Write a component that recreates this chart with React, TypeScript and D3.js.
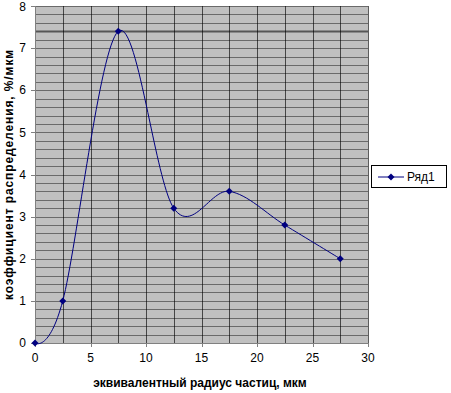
import React from "react";
import * as d3 from "d3";

const xValues = [0, 2.5, 7.5, 12.5, 17.5, 22.5, 27.5];
const yValues = [0, 1, 7.4, 3.2, 3.6, 2.8, 2.0];
const xTicks = [0, 5, 10, 15, 20, 25, 30];
const yTicks = [0, 1, 2, 3, 4, 5, 6, 7, 8];
const seriesName = "Ряд1";
const xTitle = "эквивалентный радиус частиц, мкм";
const yTitle = "коэффициент распределения, %/мкм";

export default function App() {
  const W = 451, H = 393;
  const left = 35, right = 368, top = 6, bottom = 343;
  const x = d3.scaleLinear().domain([0, 30]).range([left, right]);
  const y = d3.scaleLinear().domain([0, 8]).range([bottom, top]);
  const vGrid = d3.range(0, 30.001, 2.5);
  const hGrid = d3.range(0, 8.001, 0.2);
  const pts = xValues.map((v, i) => [x(v), y(yValues[i])] as [number, number]);
  const line = d3.line().curve(d3.curveCardinal.tension(0))(pts) || "";
  const font = "'Liberation Sans', Arial, sans-serif";
  const diamond = (cx: number, cy: number, r: number) =>
    `M${cx},${cy - r}L${cx + r},${cy}L${cx},${cy + r}L${cx - r},${cy}Z`;
  return (
    <svg width={W} height={H} style={{ position: "absolute", left: 0, top: 0 }} fontFamily={font}>
      <rect x={0} y={0} width={W} height={H} fill="#fff" />
      <rect x={left} y={top} width={right - left} height={bottom - top} fill="#c0c0c0" />
      {hGrid.map((v, i) => (
        <line key={"h" + i} x1={left} x2={right} y1={Math.round(y(v)) + 0.5} y2={Math.round(y(v)) + 0.5}
          stroke={Math.abs(v - 7.4) < 1e-6 ? "#333" : "#000"} strokeWidth={Math.abs(v - 7.4) < 1e-6 ? 2 : 0.6} strokeOpacity={0.75} />
      ))}
      {vGrid.map((v, i) => (
        <line key={"v" + i} x1={Math.round(x(v)) + 0.5} x2={Math.round(x(v)) + 0.5} y1={top} y2={bottom}
          stroke="#000" strokeWidth={0.8} strokeOpacity={0.8} />
      ))}
      <line x1={left + 0.5} x2={left + 0.5} y1={top} y2={bottom} stroke="#808080" />
      <line x1={left} x2={right} y1={bottom + 0.5} y2={bottom + 0.5} stroke="#808080" />
      {yTicks.map((v) => (
        <g key={"yt" + v}>
          <line x1={left - 4} x2={left} y1={Math.round(y(v)) + 0.5} y2={Math.round(y(v)) + 0.5} stroke="#808080" />
          <text x={left - 9} y={y(v)} dy={v === 8 ? "0.45em" : "0.35em"} textAnchor="end" fontSize={12} fill="#000">{v}</text>
        </g>
      ))}
      {xTicks.map((v) => (
        <g key={"xt" + v}>
          <line x1={Math.round(x(v)) + 0.5} x2={Math.round(x(v)) + 0.5} y1={bottom} y2={bottom + 4} stroke="#808080" />
          <text x={x(v)} y={bottom + 19} textAnchor="middle" fontSize={12} fill="#000">{v}</text>
        </g>
      ))}
      <path d={line} fill="none" stroke="#000080" strokeWidth={1} />
      {pts.map((p, i) => (
        <path key={"m" + i} d={diamond(p[0], p[1], 3.5)} fill="#000080" />
      ))}
      <text x={200} y={387} textAnchor="middle" fontSize={12} fontWeight="bold" fill="#000">{xTitle}</text>
      <text transform={`translate(13,${(top + bottom) / 2}) rotate(-90)`} textAnchor="middle" fontSize={12} fontWeight="bold" letterSpacing={0.9} fill="#000">{yTitle}</text>
      <rect x={371.5} y={165.5} width={75} height={22} fill="#fff" stroke="#000" />
      <line x1={378} x2={404} y1={177} y2={177} stroke="#000080" />
      <path d={diamond(391, 177, 3.5)} fill="#000080" />
      <text x={407} y={177} dy="0.35em" fontSize={12} fill="#000">{seriesName}</text>
    </svg>
  );
}
